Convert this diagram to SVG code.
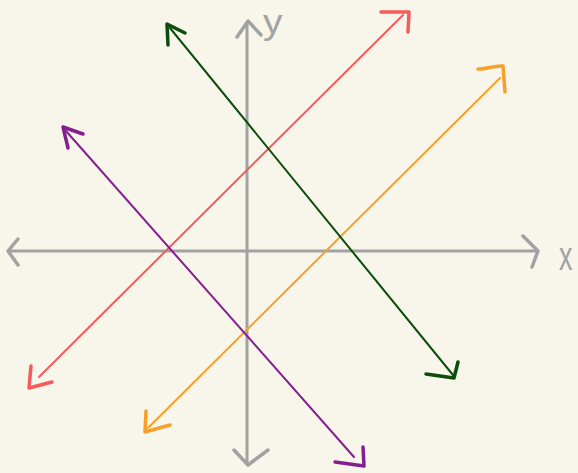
<svg xmlns="http://www.w3.org/2000/svg" width="578" height="473" viewBox="0 0 578 473">
<style>
.ln{fill:none;stroke-linecap:round;stroke-linejoin:round}
.ax{stroke:#a2a2a2;stroke-width:3}
.axh{stroke:#a2a2a2;stroke-width:3.5}
.lbl{font-family:"Liberation Sans",sans-serif;font-size:30px;fill:#a2a2a2}
.red{stroke:#f75a5a}
.org{stroke:#f7a02a}
.grn{stroke:#0c4d0c}
.pur{stroke:#83208f}
.body{stroke-width:2}
.head{stroke-width:3.5}
</style>
<rect width="578" height="473" fill="#f8f5ea"/>
<g id="connectors">
<g id="x-axis">
<path class="ln ax" d="M9,251 L537,251"/>
<path class="ln axh" d="M18,239 L8,251 L18,265"/>
<path class="ln axh" d="M523,236 L538,251 L532,267"/>
</g>
<g id="y-axis">
<path class="ln ax" d="M247,24 L247,464"/>
<path class="ln axh" d="M237,37 L248,21 L261,35"/>
<path class="ln axh" d="M234,450 L248,465 L268,450"/>
</g>
<g id="red-line">
<path class="ln red body" d="M39,377 L403,15"/>
<path class="ln red head" d="M381,12 L409,12 L408,32"/>
<path class="ln red head" d="M31,366 L29,388 L52,382"/>
</g>
<g id="orange-line">
<path class="ln org body" d="M148,428 L500,78"/>
<path class="ln org head" d="M478,69 C486,70 494,65 503,66 L505,92"/>
<path class="ln org head" d="M146,411 L145,432 L170,425"/>
</g>
<g id="green-line">
<path class="ln grn body" d="M170,28 L453,375"/>
<path class="ln grn head" d="M168,45 L167,24 L185,33"/>
<path class="ln grn head" d="M426,374 L454,378 L458,362"/>
</g>
<g id="purple-line">
<path class="ln pur body" d="M66,131 L354,457"/>
<path class="ln pur head" d="M68,148 L63,127 L83,134"/>
<path class="ln pur head" d="M335,462 L364,466 L363,447"/>
</g>
</g>
<g id="labels">
<text class="lbl" transform="translate(263,34) scale(1.3,1.15)">y</text>
<text class="lbl" transform="translate(559,270) scale(0.9,1.35)">x</text>
</g>
</svg>
